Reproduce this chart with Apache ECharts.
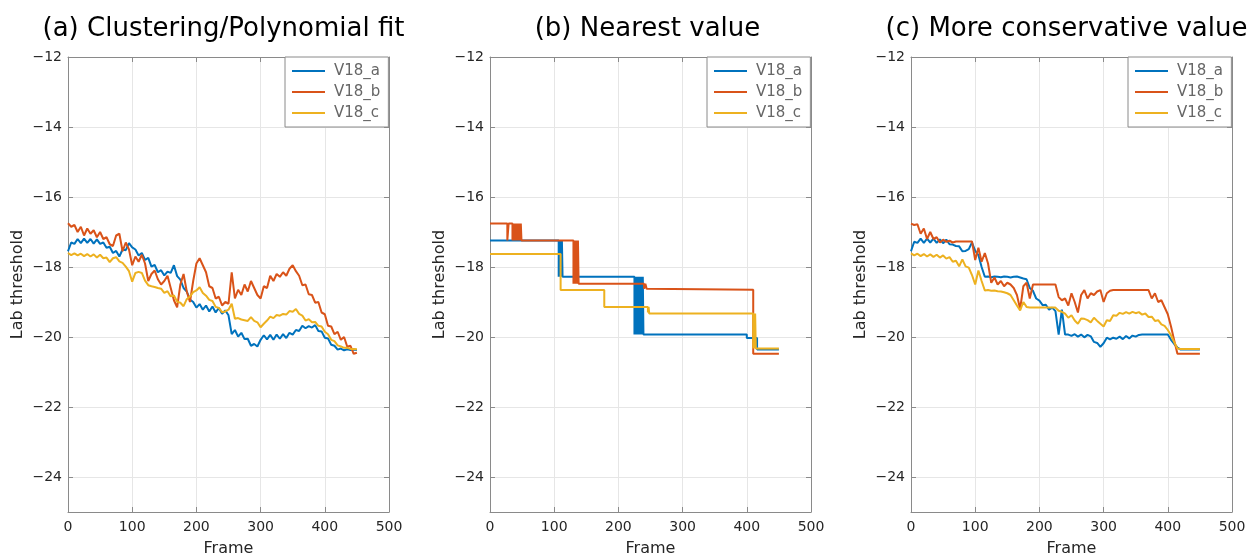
<!DOCTYPE html>
<html><head><meta charset="utf-8">
<script src="https://cdn.jsdelivr.net/npm/echarts@6/dist/echarts.min.js"></script>
<style>html,body{margin:0;padding:0;background:#fff}#c{width:1248px;height:556px}</style>
</head><body><div id="c"></div>
<script>
const titles = ['(a) Clustering/Polynomial fit', '(b) Nearest value', '(c) More conservative value'];
const seriesNames = ['V18_a', 'V18_b', 'V18_c'];
const xTicks = [0, 100, 200, 300, 400, 500];
const yTicks = [-24, -22, -20, -18, -16, -14, -12];
const frames = [0,5,10,15,20,25,30,35,40,45,50,55,60,65,70,75,80,85,90,95,100,105,110,115,120,125,130,135,140,145,150,155,160,165,170,175,180,185,190,195,200,205,210,215,220,225,230,235,240,245,250,255,260,265,270,275,280,285,290,295,300,305,310,315,320,325,330,335,340,345,350,355,360,365,370,375,380,385,390,395,400,405,410,415,420,425,430,435,440,445,450];

// (a) Clustering/Polynomial fit
const fitA = [-17.55,-17.30,-17.34,-17.20,-17.32,-17.19,-17.31,-17.20,-17.33,-17.21,
-17.34,-17.30,-17.45,-17.42,-17.60,-17.54,-17.70,-17.50,-17.52,-17.32,
-17.44,-17.50,-17.67,-17.60,-17.80,-17.74,-17.99,-17.94,-18.15,-18.09,
-18.24,-18.13,-18.17,-17.95,-18.26,-18.36,-18.60,-18.70,-18.93,-19.00,
-19.16,-19.06,-19.22,-19.10,-19.27,-19.13,-19.30,-19.17,-19.34,-19.24,
-19.38,-19.92,-19.80,-19.99,-19.88,-20.06,-20.05,-20.25,-20.20,-20.27,
-20.08,-19.95,-20.07,-19.94,-20.08,-19.93,-20.05,-19.92,-20.03,-19.88,
-19.93,-19.80,-19.83,-19.68,-19.75,-19.69,-19.73,-19.66,-19.83,-19.84,
-20.02,-20.04,-20.22,-20.25,-20.36,-20.33,-20.38,-20.35,-20.37,-20.36,
-20.37];
const fitB = [-16.75,-16.85,-16.80,-17.00,-16.85,-17.10,-16.90,-17.05,-16.95,-17.15,
-17.00,-17.20,-17.15,-17.35,-17.40,-17.10,-17.05,-17.55,-17.30,-17.50,
-17.95,-17.70,-17.85,-17.65,-17.90,-18.40,-18.20,-18.10,-18.35,-18.50,
-18.40,-18.25,-18.60,-18.95,-19.15,-18.50,-18.20,-18.70,-19.00,-18.40,
-17.90,-17.75,-17.95,-18.15,-18.55,-18.60,-18.90,-18.85,-19.10,-19.00,
-19.05,-18.15,-18.90,-18.65,-18.80,-18.50,-18.70,-18.40,-18.60,-18.80,
-18.90,-18.55,-18.60,-18.25,-18.40,-18.20,-18.28,-18.15,-18.25,-18.05,
-17.95,-18.12,-18.25,-18.52,-18.50,-18.78,-18.80,-19.02,-19.00,-19.30,
-19.35,-19.68,-19.70,-19.92,-19.85,-20.08,-20.00,-20.28,-20.25,-20.48,
-20.45];
const fitC = [-17.60,-17.66,-17.61,-17.67,-17.62,-17.69,-17.63,-17.70,-17.64,-17.73,
-17.65,-17.75,-17.73,-17.86,-17.75,-17.72,-17.84,-17.88,-17.99,-18.12,
-18.42,-18.17,-18.14,-18.17,-18.39,-18.52,-18.55,-18.57,-18.60,-18.62,
-18.74,-18.69,-18.84,-18.81,-18.99,-19.02,-19.12,-18.92,-18.84,-18.72,
-18.67,-18.58,-18.74,-18.82,-18.94,-18.97,-19.14,-19.17,-19.29,-19.27,
-19.22,-19.05,-19.48,-19.46,-19.50,-19.52,-19.54,-19.43,-19.54,-19.58,
-19.72,-19.62,-19.53,-19.42,-19.46,-19.37,-19.39,-19.34,-19.36,-19.26,
-19.28,-19.20,-19.34,-19.39,-19.53,-19.49,-19.58,-19.57,-19.68,-19.70,
-19.85,-19.92,-20.08,-20.12,-20.24,-20.27,-20.31,-20.31,-20.34,-20.34,
-20.35];

// (b) Nearest value: step breakpoints (value holds until next frame)
const nearAFrames = [0,107,108,109,110,111,112,113,225,226,227,228,229,230,231,232,233,234,235,236,237,238,239,400,416,450];
const nearAValues = [-17.24,-18.28,-17.24,-18.28,-17.24,-18.28,-17.24,-18.28,-19.93,-18.28,-19.93,-18.28,-19.93,-18.28,-19.93,-18.28,-19.93,-18.28,-19.93,-18.28,-19.93,-18.28,-19.93,-20.03,-20.36,-20.36];
const nearBFrames = [0,27,29,35,36,37,38,39,40,41,42,43,44,45,46,47,48,49,50,130,131,132,133,134,135,136,137,138,240,242,244,247,410,450];
const nearBValues = [-16.76,-17.24,-16.76,-17.24,-16.76,-17.24,-16.76,-17.24,-16.76,-17.24,-16.76,-17.24,-16.76,-17.24,-16.76,-17.24,-16.76,-17.24,-17.24,-18.48,-17.24,-18.48,-17.24,-18.48,-17.24,-18.48,-17.24,-18.48,-18.62,-18.48,-18.62,-18.65,-20.48,-20.48];
const nearCFrames = [0,110,178,246,247,248,410,411,412,413,414,415,450];
const nearCValues = [-17.63,-18.66,-19.14,-19.30,-19.14,-19.33,-20.33,-19.33,-20.33,-19.33,-20.33,-20.33,-20.33];

// (c) More conservative value
const consA = [-17.55,-17.28,-17.31,-17.19,-17.31,-17.19,-17.30,-17.19,-17.31,-17.21,
-17.32,-17.22,-17.35,-17.36,-17.40,-17.41,-17.55,-17.54,-17.49,-17.30,
-17.54,-17.66,-18.00,-18.28,-18.27,-18.29,-18.27,-18.28,-18.29,-18.27,
-18.28,-18.30,-18.28,-18.27,-18.30,-18.33,-18.35,-18.60,-18.68,-18.90,
-18.96,-19.09,-19.08,-19.22,-19.16,-19.26,-19.93,-19.22,-19.93,-19.93,
-19.97,-19.92,-19.99,-19.93,-20.01,-19.94,-19.98,-20.14,-20.17,-20.28,
-20.18,-20.02,-20.07,-20.02,-20.05,-19.99,-20.06,-19.97,-20.04,-19.96,
-19.99,-19.94,-19.93,-19.93,-19.93,-19.93,-19.93,-19.93,-19.93,-19.93,
-19.93,-20.08,-20.20,-20.30,-20.36,-20.36,-20.36,-20.36,-20.36,-20.36,
-20.36];
const consB = [-16.76,-16.80,-16.78,-17.05,-16.90,-17.20,-17.00,-17.20,-17.15,-17.30,
-17.22,-17.28,-17.25,-17.30,-17.27,-17.27,-17.27,-17.27,-17.27,-17.27,
-17.80,-17.45,-17.85,-17.60,-17.90,-18.45,-18.30,-18.50,-18.40,-18.55,
-18.45,-18.50,-18.60,-18.80,-19.20,-18.55,-18.45,-18.90,-18.50,-18.50,
-18.50,-18.50,-18.50,-18.50,-18.50,-18.50,-18.86,-18.95,-18.90,-19.10,
-18.75,-19.00,-19.30,-18.80,-18.66,-18.90,-18.75,-18.80,-18.70,-18.66,
-19.00,-18.75,-18.68,-18.66,-18.66,-18.66,-18.66,-18.66,-18.66,-18.66,
-18.66,-18.66,-18.66,-18.66,-18.66,-18.90,-18.75,-19.00,-18.95,-19.15,
-19.35,-19.70,-20.10,-20.48,-20.48,-20.48,-20.48,-20.48,-20.48,-20.48,
-20.48];
const consC = [-17.61,-17.67,-17.62,-17.69,-17.63,-17.70,-17.64,-17.71,-17.65,-17.73,
-17.67,-17.76,-17.72,-17.85,-17.82,-17.98,-17.78,-17.98,-18.02,-18.23,
-18.50,-18.10,-18.40,-18.67,-18.66,-18.68,-18.67,-18.69,-18.70,-18.72,
-18.75,-18.80,-18.95,-19.10,-19.24,-19.00,-19.14,-19.16,-19.16,-19.16,
-19.16,-19.16,-19.16,-19.16,-19.16,-19.16,-19.25,-19.28,-19.33,-19.45,
-19.38,-19.53,-19.62,-19.47,-19.48,-19.52,-19.58,-19.45,-19.54,-19.62,
-19.70,-19.52,-19.54,-19.38,-19.39,-19.31,-19.34,-19.29,-19.33,-19.28,
-19.32,-19.29,-19.36,-19.33,-19.43,-19.42,-19.54,-19.52,-19.64,-19.68,
-19.80,-19.95,-20.15,-20.33,-20.34,-20.34,-20.34,-20.34,-20.34,-20.34,
-20.34];

const colors = ['#0072BD', '#D95319', '#EDB120'];
const FONT = 'DejaVu Sans';
const gridLefts = [68, 490, 911];
const titleShift = [-10, -8, -10];
const GW = 321, GTOP = 57, GH = 455;
const axisCol = '#8a8a8a', textCol = '#262626';
const pairs = (xs, ys) => xs.map((x, i) => [x, ys[i]]);
const minus = v => (v < 0 ? '\u2212' + Math.abs(v) : String(v));

const panelData = [
  [pairs(frames, fitA), pairs(frames, fitB), pairs(frames, fitC)],
  [pairs(nearAFrames, nearAValues), pairs(nearBFrames, nearBValues), pairs(nearCFrames, nearCValues)],
  [pairs(frames, consA), pairs(frames, consB), pairs(frames, consC)]
];

const grid = [], xAxis = [], yAxis = [], series = [], title = [], legend = [];
gridLefts.forEach((L, g) => {
  grid.push({left: L, top: GTOP, width: GW, height: GH, containLabel: false, outerBoundsMode: 'none'});
  title.push({text: titles[g], left: L + GW / 2 + titleShift[g], textAlign: 'center', top: 11,
    textStyle: {fontFamily: FONT, fontSize: 26, fontWeight: 'normal', color: '#000'}});
  const tickStyle = {show: true, inside: true, length: 5, lineStyle: {color: axisCol}};
  xAxis.push({type: 'value', gridIndex: g, min: 0, max: 500, interval: 100, position: 'bottom',
    name: 'Frame', nameLocation: 'middle', nameGap: 29,
    nameTextStyle: {fontFamily: FONT, fontSize: 16, color: textCol},
    axisLine: {show: true, onZero: false, lineStyle: {color: axisCol, width: 1}},
    axisTick: tickStyle,
    axisLabel: {fontFamily: FONT, fontSize: 14, color: textCol, margin: 8, customValues: xTicks},
    splitLine: {show: true, lineStyle: {color: '#e6e6e6', width: 1}}});
  xAxis.push({type: 'value', gridIndex: g, min: 0, max: 500, interval: 100, position: 'top',
    axisLine: {show: true, onZero: false, lineStyle: {color: axisCol, width: 1}},
    axisTick: tickStyle, axisLabel: {show: false}, splitLine: {show: false}});
  yAxis.push({type: 'value', gridIndex: g, min: -25, max: -12, position: 'left',
    name: 'Lab threshold', nameLocation: 'middle', nameGap: 42,
    nameTextStyle: {fontFamily: FONT, fontSize: 16, color: textCol},
    axisLine: {show: true, onZero: false, lineStyle: {color: axisCol, width: 1}},
    axisTick: Object.assign({customValues: yTicks}, tickStyle),
    axisLabel: {fontFamily: FONT, fontSize: 14, color: textCol, margin: 6, customValues: yTicks, formatter: minus},
    splitLine: {show: true, lineStyle: {color: '#e6e6e6', width: 1}}});
  yAxis.push({type: 'value', gridIndex: g, min: -25, max: -12, position: 'right',
    axisLine: {show: true, onZero: false, lineStyle: {color: axisCol, width: 1}},
    axisTick: Object.assign({customValues: yTicks}, tickStyle),
    axisLabel: {show: false}, splitLine: {show: false}});
  panelData[g].forEach((d, s) => {
    series.push({type: 'line', name: seriesNames[s], xAxisIndex: 2 * g, yAxisIndex: 2 * g,
      data: d, showSymbol: false, symbol: 'none', step: g === 1 ? 'end' : false,
      lineStyle: {color: colors[s], width: 2}, itemStyle: {color: colors[s]},
      animation: false, z: 3 + s});
  });
  legend.push({data: seriesNames, orient: 'vertical', left: L + GW - 104, top: GTOP, width: 104,
    icon: 'rect', itemWidth: 33, itemHeight: 2, itemGap: 5, padding: [6, 8, 6, 7],
    borderColor: '#8a8a8a', borderWidth: 1, backgroundColor: '#fff',
    textStyle: {fontFamily: FONT, fontSize: 15, color: '#666', lineHeight: 16, padding: [0, 0, 0, 4]},
    selectedMode: false});
});

const chart = echarts.init(document.getElementById('c'), null, {renderer: 'canvas'});
chart.setOption({animation: false, backgroundColor: '#fff', color: colors,
  title, legend, grid, xAxis, yAxis, series});
</script></body></html>
